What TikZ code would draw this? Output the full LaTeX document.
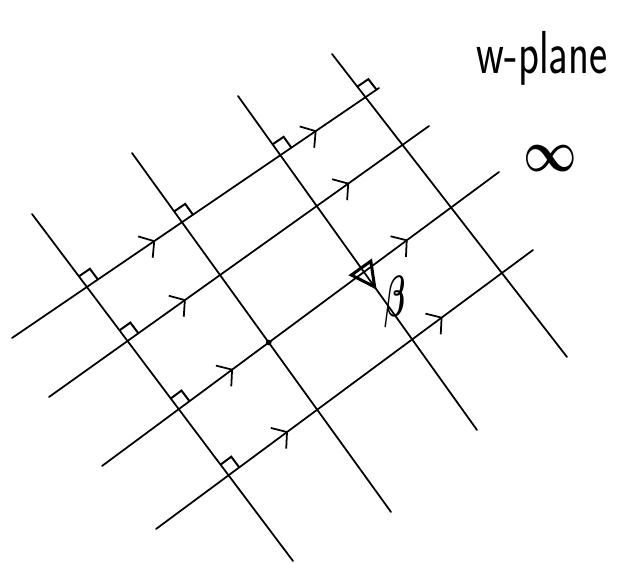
\documentclass[tikz,border=0pt]{standalone}
\usepackage{amsmath}
\usepackage{tikz}
\usetikzlibrary{arrows.meta, calc, intersections, decorations.markings}

\begin{document}
\begin{tikzpicture}[x=0.03cm, y=-0.03cm, line width=1.5pt, line cap=round,
    flow/.style 2 args={postaction={decorate}, decoration={markings,
        mark=at position #1 with {\arrow{Straight Barb[length=9pt, width=22pt]}},
        mark=at position #2 with {\arrow{Straight Barb[length=9pt, width=22pt]}}}},
    corner/.style={line width=1.7pt, line cap=butt}]
    \useasboundingbox (0,0) rectangle (620,563);

    \coordinate (ul1) at (12,338);  \coordinate (ur1) at (379,88);
    \coordinate (ul2) at (49,397);  \coordinate (ur2) at (429,126);
    \coordinate (ul3) at (102,466); \coordinate (ur3) at (499,172);
    \coordinate (ul4) at (156,529); \coordinate (ur4) at (533,250);
    \coordinate (dt1) at (32,214);  \coordinate (db1) at (293,561);
    \coordinate (dt2) at (132,153); \coordinate (db2) at (391,512);
    \coordinate (dt3) at (238,96);  \coordinate (db3) at (477,430);
    \coordinate (dt4) at (332,54);  \coordinate (db4) at (567,357);

    \draw [name path=u1, flow={.39}{.83}] (ul1) -- (ur1);
    \draw [name path=u2, flow={.36}{.79}] (ul2) -- (ur2);
    \draw [name path=u3, flow={.33}{.77}] (ul3) -- (ur3);
    \draw [name path=u4, flow={.35}{.76}] (ul4) -- (ur4);
    \draw [name path=d1] (dt1) -- (db1);
    \draw [name path=d2] (dt2) -- (db2);
    \draw [name path=d3, postaction={decorate}, decoration={markings,
        mark=at position .58 with {\arrow{Triangle[open, length=24pt, width=24pt, line width=2.6pt]}}}] (dt3) -- (db3);
    \draw [name path=d4] (dt4) -- (db4);

    \foreach \i/\j in {1/1, 1/2, 1/3, 1/4, 2/1, 3/1, 4/1} {
        \path [name intersections={of={d\i} and {u\j}, by={x\i\j}}];
        \coordinate (m1) at ($(x\i\j)!.4cm!(dt\i)$);
        \coordinate (m2) at ($(x\i\j)!.4cm!(ur\j)$);
        \draw [corner] (m1) -- ($(m1)+(m2)-(x\i\j)$) -- (m2);
    }
    \path [name intersections={of=d2 and u3, by={x23}}];
    \fill (x23) circle (2.4pt);

    \node (beta) at (395,302) {\scalebox{1.05}[2]{\Huge\boldmath$\beta$}};
    \node (wplane) [anchor=base] at (542,73) {\scalebox{1}[1.4]{\sffamily\fontsize{37}{40}\selectfont w-plane}};
    \node (infty) at (550,159) {\scalebox{1.6}[2]{\Huge\boldmath$\infty$}};
\end{tikzpicture}
\end{document}
